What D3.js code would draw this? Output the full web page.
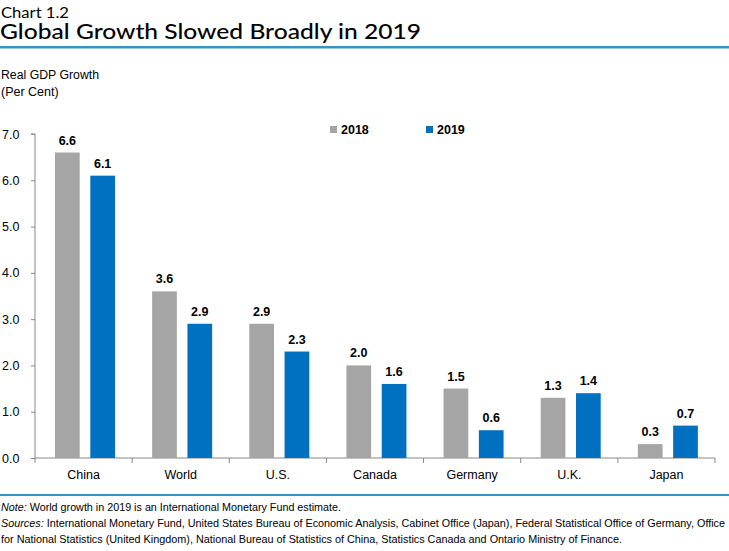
<!DOCTYPE html>
<html><head><meta charset="utf-8">
<script src="https://cdn.jsdelivr.net/npm/d3@7"></script>
<style>body{margin:0;background:#fff}svg{display:block}</style>
</head><body><svg id="c" width="729" height="551"></svg>
<script>
const categories = ["China","World","U.S.","Canada","Germany","U.K.","Japan"];
const values2018 = [6.6,3.6,2.9,2.0,1.5,1.3,0.3];
const values2019 = [6.1,2.9,2.3,1.6,0.6,1.4,0.7];
const seriesNames = ["2018","2019"];
const yTicks = [0,1,2,3,4,5,6,7];

const svg = d3.select("#c");
const font = "'Liberation Sans',Arial,sans-serif";
const colors = ["#a5a5a5","#0070c0"];

svg.append("text").attr("x",1).attr("y",17.5).attr("font-family","Lato,sans-serif").attr("font-size",14.5)
  .attr("textLength",68).attr("lengthAdjust","spacingAndGlyphs").attr("fill","#000").text("Chart 1.2");
svg.append("text").attr("x",0).attr("y",39).attr("font-family","Lato,sans-serif").attr("font-weight",500).attr("font-size",20.5)
  .attr("textLength",421).attr("lengthAdjust","spacingAndGlyphs").attr("fill","#000").text("Global Growth Slowed Broadly in 2019");
svg.append("rect").attr("x",0).attr("y",46).attr("width",729).attr("height",2.5).attr("fill","#3f8fc0");

svg.append("text").attr("x",1).attr("y",79).attr("font-family",font).attr("font-size",12.5)
  .attr("textLength",98).attr("lengthAdjust","spacingAndGlyphs").text("Real GDP Growth");
svg.append("text").attr("x",1).attr("y",96).attr("font-family",font).attr("font-size",12.5).text("(Per Cent)");

const x0 = d3.scaleBand().domain(categories).range([35,715]);
const y = d3.scaleLinear().domain([0,7]).range([458,134]);

const yAxis = svg.append("g").attr("transform","translate(35,0)")
  .call(d3.axisLeft(y).tickValues(yTicks).tickFormat(d3.format(".1f")).tickSize(4).tickPadding(15));
yAxis.select(".domain").attr("stroke","#888").attr("d","M-4,"+y(7)+"H0V"+y(0));
yAxis.selectAll(".tick line").attr("stroke","#888");
yAxis.selectAll(".tick text").attr("font-family",font).attr("font-size",12.5).attr("fill","#000").attr("text-anchor","start").attr("x",-33);

const xAxis = svg.append("g").attr("transform","translate(0,458)")
  .call(d3.axisBottom(x0).tickSize(0).tickPadding(12));
xAxis.select(".domain").attr("stroke","#888").attr("d","M35,0H715");
xAxis.selectAll(".tick text").attr("font-family",font).attr("font-size",12.5).attr("fill","#000");
const bounds = categories.map(c=>x0(c)).concat([715]);
svg.append("g").selectAll("line").data(bounds).join("line")
  .attr("x1",d=>d).attr("x2",d=>d).attr("y1",458).attr("y2",463).attr("stroke","#888");

const x1 = d3.scaleBand().domain(seriesNames).range([20,80]).paddingInner(0.3);
const data = categories.map((c,i)=>({c, vals:[values2018[i],values2019[i]]}));
const groups = svg.append("g").selectAll("g").data(data).join("g")
  .attr("transform",d=>`translate(${x0(d.c)},0)`);
groups.selectAll("rect").data(d=>d.vals.map((v,j)=>({v,s:seriesNames[j],j}))).join("rect")
  .attr("x",d=>x1(d.s)).attr("width",x1.bandwidth())
  .attr("y",d=>y(d.v)).attr("height",d=>y(0)-y(d.v)).attr("fill",d=>colors[d.j]);
groups.selectAll("text").data(d=>d.vals.map((v,j)=>({v,s:seriesNames[j],j}))).join("text")
  .attr("x",d=>x1(d.s)+x1.bandwidth()/2).attr("y",d=>y(d.v)-8)
  .attr("text-anchor","middle").attr("font-family",font).attr("font-weight","bold").attr("font-size",12.5)
  .text(d=>d3.format(".1f")(d.v));

const legend = svg.append("g").selectAll("g").data(seriesNames).join("g")
  .attr("transform",(d,i)=>`translate(${330+i*96},126)`);
legend.append("rect").attr("width",7).attr("height",7).attr("fill",(d,i)=>colors[i]);
legend.append("text").attr("x",11).attr("y",8).attr("font-family",font).attr("font-weight","bold").attr("font-size",12.5).text(d=>d);

svg.append("rect").attr("x",0).attr("y",494).attr("width",729).attr("height",2).attr("fill","#3f8fc0");
const foot = svg.append("g").attr("font-family",font).attr("fill","#000");
const t1 = foot.append("text").attr("x",1).attr("y",511).attr("font-size",11.2).attr("textLength",340).attr("lengthAdjust","spacingAndGlyphs");
t1.append("tspan").attr("font-style","italic").text("Note:");
t1.append("tspan").text(" World growth in 2019 is an International Monetary Fund estimate.");
const t2 = foot.append("text").attr("x",1).attr("y",527).attr("font-size",10.6).attr("textLength",724).attr("lengthAdjust","spacingAndGlyphs");
t2.append("tspan").attr("font-style","italic").text("Sources:");
t2.append("tspan").text(" International Monetary Fund, United States Bureau of Economic Analysis, Cabinet Office (Japan), Federal Statistical Office of Germany, Office");
foot.append("text").attr("x",1).attr("y",543).attr("font-size",11.2).attr("textLength",621).attr("lengthAdjust","spacingAndGlyphs")
  .text("for National Statistics (United Kingdom), National Bureau of Statistics of China, Statistics Canada and Ontario Ministry of Finance.");
</script></body></html>
